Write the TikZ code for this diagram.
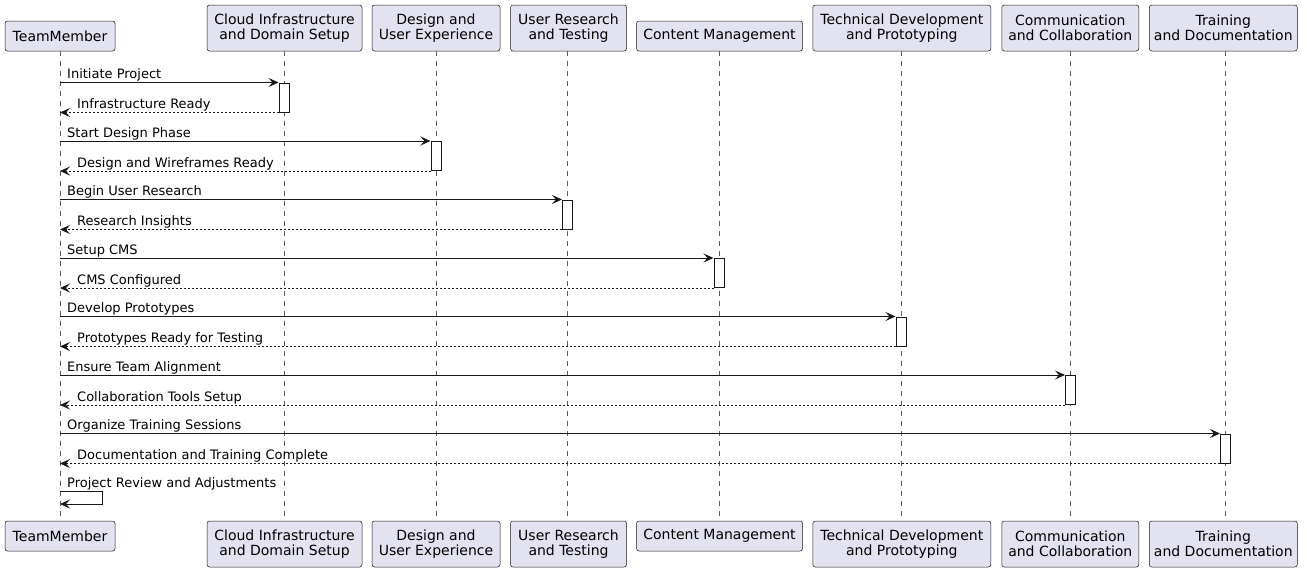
\documentclass[tikz,border=0pt]{standalone}
\usepackage{fontspec}
\setmainfont{DejaVu Sans}
\usetikzlibrary{arrows.meta}
\definecolor{partfill}{HTML}{E2E2F0}
\definecolor{ink}{HTML}{181818}
\tikzset{
  part/.style={draw=ink, line width=0.5pt, fill=partfill, rounded corners=2.5pt, align=center,
    font=\fontsize{14}{15.2}\selectfont, inner sep=0pt, text=black},
  lifeline/.style={draw=ink!70, line width=0.6pt, dash pattern=on 5pt off 5pt},
  act/.style={draw=ink, fill=white, line width=1pt, minimum width=10, inner sep=0pt},
  msg/.style={draw=ink, line width=1pt, -{Stealth[length=10pt,width=9pt,inset=4pt]}},
  ret/.style={msg, dash pattern=on 2pt off 2pt},
  lbl/.style={font=\fontsize{13}{15}\selectfont, inner sep=0pt, anchor=base west, text=black}
}
\begin{document}
\begin{tikzpicture}[x=1pt, y=-1pt]
\path[use as bounding box] (0,0) rectangle (1307,573);

% lifeline x positions
\coordinate (lA) at (60,0);
\coordinate (lB) at (284,0);
\coordinate (lC) at (436,0);
\coordinate (lD) at (567.5,0);
\coordinate (lE) at (719,0);
\coordinate (lF) at (901,0);
\coordinate (lG) at (1070.5,0);
\coordinate (lH) at (1225.5,0);

% top participants
\node[part, minimum width=110, minimum height=30] (tA) at (60,36) {TeamMember};
\node[part, minimum width=155, minimum height=46] (tB) at (284.5,28) {Cloud Infrastructure\\and Domain Setup};
\node[part, minimum width=128, minimum height=46] (tC) at (436,28) {Design and\\User Experience};
\node[part, minimum width=116, minimum height=46] (tD) at (568.5,28) {User Research\\and Testing};
\node[part, minimum width=166, minimum height=30] (tE) at (719.5,36) {Content Management};
\node[part, minimum width=178, minimum height=46] (tF) at (901.8,28) {Technical Development\\and Prototyping};
\node[part, minimum width=137, minimum height=46] (tG) at (1070.3,28) {Communication\\and Collaboration};
\node[part, minimum width=148, minimum height=46] (tH) at (1223.3,28) {Training\\and Documentation};

% bottom participants
\node[part, minimum width=110, minimum height=30] (bA) at (60,536) {TeamMember};
\node[part, minimum width=155, minimum height=46] (bB) at (284.5,544) {Cloud Infrastructure\\and Domain Setup};
\node[part, minimum width=128, minimum height=46] (bC) at (436,544) {Design and\\User Experience};
\node[part, minimum width=116, minimum height=46] (bD) at (568.5,544) {User Research\\and Testing};
\node[part, minimum width=166, minimum height=30] (bE) at (719.5,536) {Content Management};
\node[part, minimum width=178, minimum height=46] (bF) at (901.8,544) {Technical Development\\and Prototyping};
\node[part, minimum width=137, minimum height=46] (bG) at (1070.3,544) {Communication\\and Collaboration};
\node[part, minimum width=148, minimum height=46] (bH) at (1223.3,544) {Training\\and Documentation};

% lifelines
\foreach \p in {A,B,C,D,E,F,G,H}{
  \draw[lifeline] (l\p |- t\p.south) -- (l\p |- b\p.north);
}

% activations
\node[act, minimum height=29] (aB) at (284,97.5) {};
\node[act, minimum height=29] (aC) at (436,156) {};
\node[act, minimum height=29] (aD) at (567.5,214.5) {};
\node[act, minimum height=29] (aE) at (719,273) {};
\node[act, minimum height=29] (aF) at (901,331.5) {};
\node[act, minimum height=29] (aG) at (1070.5,390) {};
\node[act, minimum height=29] (aH) at (1225.5,448.5) {};

% messages
\foreach \p/\fw/\bw in {
  B/{Initiate Project}/{Infrastructure Ready},
  C/{Start Design Phase}/{Design and Wireframes Ready},
  D/{Begin User Research}/{Research Insights},
  E/{Setup CMS}/{CMS Configured},
  F/{Develop Prototypes}/{Prototypes Ready for Testing},
  G/{Ensure Team Alignment}/{Collaboration Tools Setup},
  H/{Organize Training Sessions}/{Documentation and Training Complete}}{
  \draw[msg] (lA |- a\p.north) -- (a\p.north west);
  \draw[ret] (a\p.south west) -- (lA |- a\p.south);
  \node[lbl] (m\p) at ([yshift=4pt]lA |- a\p.north) [xshift=7pt] {\fw};
  \node[lbl] (r\p) at ([yshift=4pt]lA |- a\p.south) [xshift=17pt] {\bw};
}

% self message
\coordinate (s1) at (60,491);
\coordinate (s2) at (60,504);
\node[lbl] (mself) at (67,487) {Project Review and Adjustments};
\draw[msg] (s1) -- ++(42,0) |- (s2);

\end{tikzpicture}
\end{document}
